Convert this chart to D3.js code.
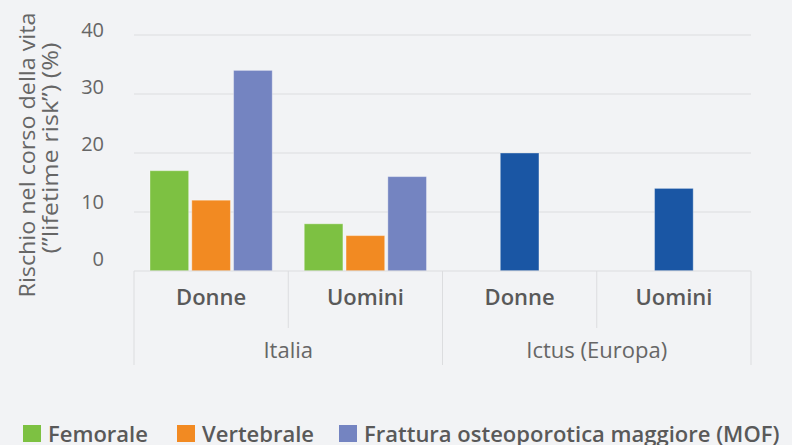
<!DOCTYPE html>
<html lang="it">
  <head>
    <meta charset="utf-8" />
    <title>lifetime risk</title>
    <script type="text/javascript" src="https://d3js.org/d3.v7.min.js"></script>
    <style>
      body { margin: 0; background: #f2f3f5; }
      svg { display: block; font-family: "Open Sans", sans-serif; }
    </style>
  </head>
  <body>
    <div id="chart"></div>
    <script type="text/javascript">
      /********************************
       * data
       ********************************/
      const groups = ["Italia", "Ictus (Europa)"];
      const sexes = ["Donne", "Uomini"];
      const series = ["Femorale", "Vertebrale", "Frattura osteoporotica maggiore (MOF)"];
      const femorale = [17, 8];   // Italia: Donne, Uomini
      const vertebrale = [12, 6];
      const mof = [34, 16];
      const ictus = [20, 14];     // Europa: Donne, Uomini
      const yTicks = [0, 10, 20, 30, 40];
      const colors = ["#7dc142", "#f28a22", "#7484c1"];
      const ictusColor = "#1a56a4";

      /********************************
       * svg + scales
       ********************************/
      const width = 792;
      const height = 445;
      const plotLeft = 134, plotRight = 751, plotTop = 35, plotBottom = 271;

      const svg = d3.select("#chart").append("svg")
        .attr("width", width)
        .attr("height", height);

      const cats = [];
      groups.forEach(g => sexes.forEach(s => cats.push(g + "|" + s)));

      const x = d3.scaleBand().domain(cats).range([plotLeft, plotRight]).padding(0);
      const bw = x.bandwidth();
      const xInner = d3.scaleBand().domain(series).range([16, bw - 16]).paddingInner(0.075);
      const y = d3.scaleLinear().domain([0, 40]).range([plotBottom, plotTop]);
      // tick labels sit a little above their gridlines in the original
      const yLabel = d3.scaleLinear().domain([0, 40]).range([259, 30]);

      // gridlines
      svg.append("g")
        .selectAll("line")
        .data(yTicks.slice(1))
        .join("line")
        .attr("x1", plotLeft).attr("x2", plotRight)
        .attr("y1", d => y(d)).attr("y2", d => y(d))
        .attr("stroke", "#dcdddf").attr("stroke-width", 1);

      // y axis labels
      const yAxis = svg.append("g")
        .attr("transform", `translate(${plotLeft},0)`)
        .call(d3.axisLeft(yLabel).tickValues(yTicks).tickSize(0).tickPadding(30));
      yAxis.select(".domain").remove();
      yAxis.selectAll("text")
        .attr("fill", "#666")
        .style("font-size", "20px")
        .style("font-family", "'Open Sans', sans-serif");

      // y title
      const yTitle = svg.append("text")
        .attr("transform", "rotate(-90)")
        .attr("text-anchor", "middle")
        .attr("fill", "#666")
        .style("font-size", "21px");
      yTitle.append("tspan").attr("x", -155).attr("y", 35)
        .attr("textLength", 285).attr("lengthAdjust", "spacingAndGlyphs")
        .text("Rischio nel corso della vita");
      yTitle.append("tspan").attr("x", -148).attr("y", 58)
        .attr("textLength", 211).attr("lengthAdjust", "spacingAndGlyphs")
        .text("(”lifetime risk”) (%)");

      /********************************
       * bars
       ********************************/
      const italiaRows = sexes.map((s, i) => ({
        cat: "Italia|" + s,
        vals: [femorale[i], vertebrale[i], mof[i]]
      }));

      svg.append("g")
        .selectAll("g")
        .data(italiaRows)
        .join("g")
        .attr("transform", d => `translate(${x(d.cat)},0)`)
        .selectAll("rect")
        .data(d => d.vals.map((v, j) => ({ key: series[j], v, j })))
        .join("rect")
        .attr("x", d => xInner(d.key))
        .attr("y", d => y(d.v))
        .attr("width", xInner.bandwidth())
        .attr("height", d => y(0) - y(d.v))
        .attr("fill", d => colors[d.j])
        .attr("stroke", "#ffffff")
        .attr("stroke-opacity", 0.35)
        .attr("stroke-width", 1);

      svg.append("g")
        .selectAll("rect")
        .data(sexes.map((s, i) => ({ cat: "Ictus (Europa)|" + s, v: ictus[i] })))
        .join("rect")
        .attr("x", d => x(d.cat) + bw / 2 - xInner.bandwidth() / 2)
        .attr("y", d => y(d.v))
        .attr("width", xInner.bandwidth())
        .attr("height", d => y(0) - y(d.v))
        .attr("fill", ictusColor)
        .attr("stroke", "#ffffff")
        .attr("stroke-opacity", 0.35)
        .attr("stroke-width", 1);

      /********************************
       * category axis (two levels)
       ********************************/
      const axisColor = "#dcdddf";
      svg.append("line")
        .attr("x1", plotLeft).attr("x2", plotRight)
        .attr("y1", plotBottom).attr("y2", plotBottom)
        .attr("stroke", axisColor);

      // separators: short between sexes, long between groups
      const seps = [];
      cats.forEach((c, i) => seps.push({ x: x(c), long: i % 2 === 0 }));
      seps.push({ x: plotRight, long: true });
      svg.append("g")
        .selectAll("line")
        .data(seps)
        .join("line")
        .attr("x1", d => d.x).attr("x2", d => d.x)
        .attr("y1", plotBottom).attr("y2", d => d.long ? 365 : 328)
        .attr("stroke", axisColor);

      svg.append("g")
        .selectAll("text")
        .data(cats)
        .join("text")
        .attr("x", d => x(d) + bw / 2)
        .attr("y", 305)
        .attr("text-anchor", "middle")
        .attr("fill", "#595959")
        .style("font-size", "22px")
        .style("font-weight", 600)
        .text(d => d.split("|")[1]);

      svg.append("g")
        .selectAll("text")
        .data(groups)
        .join("text")
        .attr("x", d => x(d + "|" + sexes[0]) + bw)
        .attr("y", 358)
        .attr("text-anchor", "middle")
        .attr("fill", "#666")
        .style("font-size", "22px")
        .text(d => d);

      /********************************
       * legend
       ********************************/
      const legendX = [23, 177, 339];
      const legend = svg.append("g")
        .selectAll("g")
        .data(series)
        .join("g")
        .attr("transform", (d, i) => `translate(${legendX[i]},425)`);
      legend.append("rect")
        .attr("width", 18).attr("height", 17)
        .attr("fill", (d, i) => colors[i]);
      legend.append("text")
        .attr("x", 25).attr("y", 17)
        .attr("fill", "#595959")
        .style("font-size", "22px")
        .style("font-weight", 600)
        .text(d => d);
    </script>
  </body>
</html>
